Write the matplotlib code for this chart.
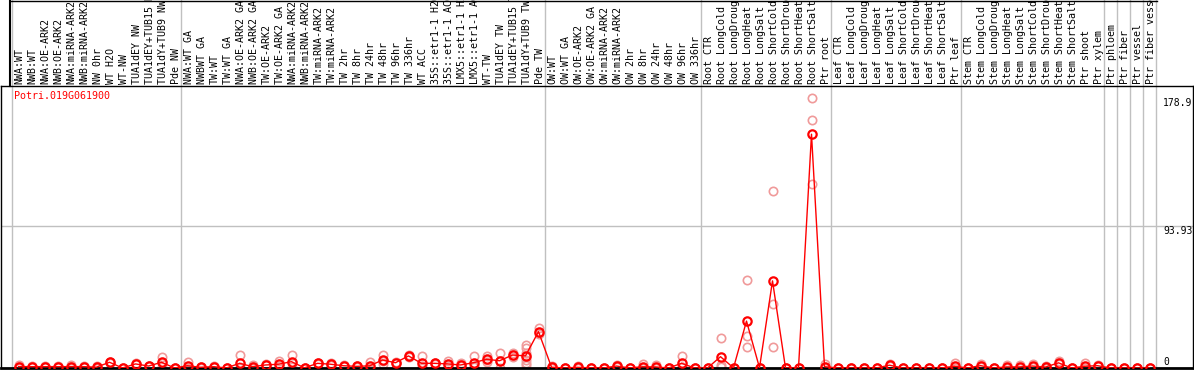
import numpy as np
import matplotlib.pyplot as plt
from matplotlib.lines import Line2D
from matplotlib.transforms import blended_transform_factory

gene = "Potri.019G061900"

labels = [
    "NWA:WT", "NWB:WT", "NWA:OE-ARK2", "NWB:OE-ARK2", "NWA:miRNA-ARK2",
    "NWB:miRNA-ARK2", "NW 0hr", "WT H2O", "WT-NW", "TUA1dEY NW",
    "TUA1dEY+TUB15 NW", "TUA1dY+TUB9 NW", "Pde NW",
    "NWA:WT GA", "NWBWT GA", "TW:WT", "TW:WT GA", "NWA:OE-ARK2 GA",
    "NWB:OE-ARK2 GA", "TW:OE-ARK2", "TW:OE-ARK2 GA", "NWA:miRNA-ARK2",
    "NWB:miRNA-ARK2", "TW:miRNA-ARK2", "TW:miRNA-ARK2", "TW 2hr", "TW 8hr",
    "TW 24hr", "TW 48hr", "TW 96hr", "TW 336hr", "WT ACC", "35S::etr1-1 H2O",
    "35S::etr1-1 ACC", "LMX5::etr1-1 H2O", "LMX5::etr1-1 ACC", "WT-TW",
    "TUA1dEY TW", "TUA1dEY+TUB15 TW", "TUA1dY+TUB9 TW", "Pde TW",
    "OW:WT", "OW:WT GA", "OW:OE-ARK2", "OW:OE-ARK2 GA", "OW:miRNA-ARK2",
    "OW:miRNA-ARK2", "OW 2hr", "OW 8hr", "OW 24hr", "OW 48hr", "OW 96hr",
    "OW 336hr",
    "Root CTR", "Root LongCold", "Root LongDrought", "Root LongHeat",
    "Root LongSalt", "Root ShortCold", "Root ShortDrought", "Root ShortHeat",
    "Root ShortSalt", "Ptr root",
    "Leaf CTR", "Leaf LongCold", "Leaf LongDrought", "Leaf LongHeat",
    "Leaf LongSalt", "Leaf ShortCold", "Leaf ShortDrought", "Leaf ShortHeat",
    "Leaf ShortSalt", "Ptr leaf",
    "Stem CTR", "Stem LongCold", "Stem LongDrought", "Stem LongHeat",
    "Stem LongSalt", "Stem ShortCold", "Stem ShortDrought", "Stem ShortHeat",
    "Stem ShortSalt", "Ptr shoot", "Ptr xylem",
    "Ptr phloem", "Ptr fiber", "Ptr vessel", "Ptr fiber vessel",
]

group_sizes = [13, 28, 12, 10, 10, 11, 1, 1, 1, 1]

# replicate expression values per sample (means are taken from these)
replicates = [
    [2.0, 0.5, 0.3], [1.3, 0.8, 0.6], [1.4, 0.8, 0.5], [1.3, 0.8, 0.6],
    [2.1, 0.4, 0.3], [1.2, 0.8, 0.7], [1.6, 0.1, 0.0], [4.2, 3.7, 3.5],
    [0.1, 0.0, 0.0], [3.1, 2.6, 2.4], [1.6, 1.2, 1.1], [7.1, 3.4, 0.9],
    [0.1, 0.0, 0.0],
    [4.2, 0.2, 0.1], [0.8, 0.4, 0.3], [1.5, 0.7, 0.5], [0.1, 0.0, 0.0],
    [8.4, 0.6, 0.3], [2.0, 0.5, 0.2], [2.4, 1.9, 1.7], [4.8, 1.6, 1.1],
    [8.4, 3.3, 0.9], [0.2, 0.1, 0.0], [3.5, 3.0, 2.8], [3.5, 2.2, 1.8],
    [2.0, 1.4, 1.1], [1.5, 1.0, 0.8], [4.2, 0.0, 0.0], [8.6, 4.8, 2.5],
    [3.9, 3.5, 3.1], [8.6, 8.0, 7.4], [8.0, 1.0, 0.3], [3.6, 3.0, 2.7],
    [4.8, 2.0, 1.3], [3.1, 1.8, 1.1], [8.0, 1.6, 0.9], [8.0, 5.5, 3.9],
    [9.7, 4.7, 0.0], [9.7, 8.6, 7.5],
    [15.3, 13.0, 10.2, 7.5, 5.3, 3.1, 2.0], [26.3, 23.5, 22.5],
    [1.5, 0.1, 0.0], [0.0, 0.0, 0.0], [1.3, 0.1, 0.0], [0.2, 0.1, 0.0],
    [0.0, 0.0, 0.0], [2.0, 1.2, 0.7], [0.1, 0.0, 0.0], [2.4, 0.1, 0.0],
    [1.8, 0.3, 0.1], [0.0, 0.0, 0.0], [8.2, 0.7, 0.4], [0.1, 0.0, 0.0],
    [0.0, 0.0, 0.0], [19.7, 1.9, 0.9], [0.2, 0.0, 0.0], [58.2, 21.4, 13.7],
    [0.3, 0.1, 0.0], [117.4, 42.2, 13.7], [0.1, 0.0, 0.0], [0.0, 0.0, 0.0],
    [178.9, 164.3, 121.8], [2.5, 0.1, 0.0],
    [0.1, 0.0, 0.0], [0.1, 0.0, 0.0], [0.1, 0.0, 0.0], [0.1, 0.0, 0.0],
    [2.6, 1.8, 1.2], [0.1, 0.0, 0.0], [0.1, 0.0, 0.0], [0.1, 0.0, 0.0],
    [0.1, 0.0, 0.0], [3.1, 0.3, 0.1],
    [0.0, 0.0, 0.0], [2.5, 1.4, 0.8], [0.0, 0.0, 0.0], [1.8, 0.3, 0.1],
    [1.8, 0.3, 0.1], [2.5, 0.9, 0.5], [1.5, 0.3, 0.1], [4.8, 3.0, 2.5],
    [0.0, 0.0, 0.0], [3.3, 0.1, 0.0], [1.8, 1.5, 1.3],
    [0.0, 0.0, 0.0], [0.0, 0.0, 0.0], [0.0, 0.0, 0.0], [0.0, 0.0, 0.0],
]

mid_tick = 93.93

plt.rcParams["font.family"] = "DejaVu Sans Mono"

W, H = 1194, 370
fig = plt.figure(figsize=(W / 100, H / 100), dpi=100)

# data panel, pixel edges
left, right, top, bottom = 1, 1193, 86, 368
ax = fig.add_axes([left / W, 1 - bottom / H, (right - left) / W, (bottom - top) / H])
col_w, x0 = 13, 18.5
ax.set_xlim((left - x0) / col_w, (right - x0) / col_w)
ymax = max(max(r) for r in replicates)
ax.set_ylim(0, ymax * 1.045)
ax.set_xticks([])
ax.set_yticks([])
for s in ax.spines.values():
    s.set_color("black")
    s.set_linewidth(1)
ax.spines["bottom"].set_linewidth(2)

x = np.arange(len(labels))

# group separators run up through the header
bounds = np.cumsum([0] + group_sizes) - 0.5
for b in bounds:
    ax.axvline(b, ymin=0, ymax=bottom / (bottom - top), color="#c0c0c0",
               lw=1, clip_on=False, zorder=0)
ax.axhline(mid_tick, color="#c0c0c0", lw=1, zorder=0)

# replicates
xr = np.concatenate([[i] * len(r) for i, r in enumerate(replicates)])
yr = np.concatenate(replicates)
ax.plot(xr, yr, "o", mfc="none", mec="#f09a9a", ms=6, mew=1.2, zorder=2)

# means
means = [np.mean(r) for r in replicates]
ax.plot(x, means, color="red", lw=1, marker="o", mfc="none", mec="red",
        ms=6, mew=1.6, zorder=3)

# column labels in the header
for i, lab in enumerate(labels):
    ax.text(i + 0.1, 1 + 2.5 / (bottom - top), lab, rotation=90, ha="center",
            va="bottom", fontsize=7.2, color="black",
            transform=blended_transform_factory(ax.transData, ax.transAxes))

# value labels on the right
tr = blended_transform_factory(ax.transAxes, ax.transData)
xt = (1163 - left) / (right - left)
ax.text(xt, ymax, f"{ymax:.1f}", transform=tr, va="top", fontsize=7)
ax.text(xt, mid_tick, f"{mid_tick}", transform=tr, va="top", fontsize=7)
ax.text(xt, 0.8, "0", transform=tr, va="bottom", fontsize=7)

ax.text((14 - left) / (right - left), 1 - 5 / (bottom - top), gene,
        transform=ax.transAxes, color="red", va="top", fontsize=7.2)

# header frame
fig.add_artist(Line2D([10 / W, 10 / W], [1, 1 - top / H], color="black", lw=1.5))
fig.add_artist(Line2D([10 / W, 1157 / W], [1 - 0.5 / H, 1 - 0.5 / H],
                      color="black", lw=1))

fig.savefig("out.png", dpi=100)
